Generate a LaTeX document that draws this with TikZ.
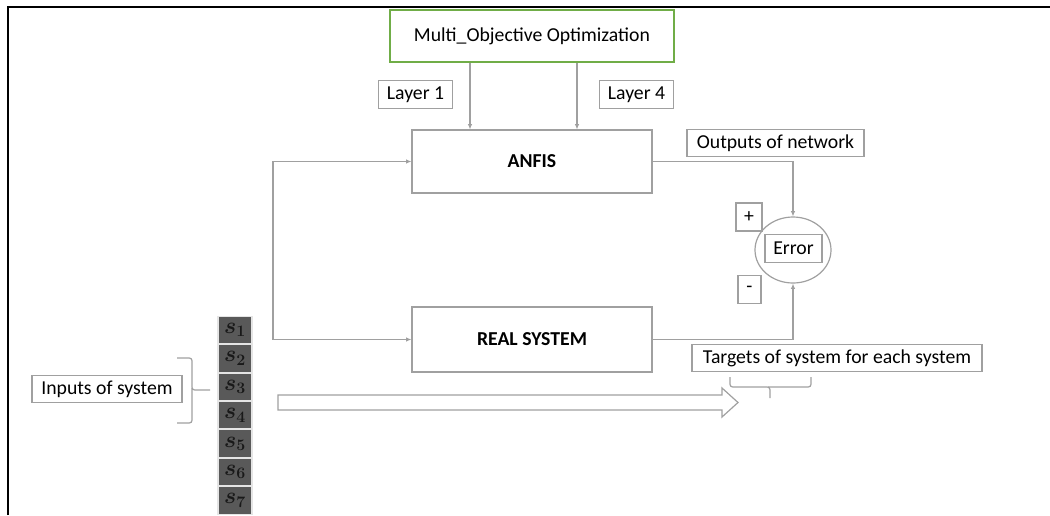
\documentclass[tikz,border=0pt]{standalone}
\usepackage{amsmath,bm}
\usepackage{fontspec}
\setmainfont{Carlito}
\usetikzlibrary{arrows.meta, positioning, shapes.geometric, calc}
\definecolor{linegray}{RGB}{160,160,160}
\definecolor{cellgray}{RGB}{89,89,89}
\definecolor{optgreen}{RGB}{112,173,71}

\begin{document}
\begin{tikzpicture}[
    x=0.75pt, y=-0.75pt,
    box/.style={draw=linegray, line width=0.9pt, font=\fontsize{14.8}{17}\selectfont,
                minimum height=20.5pt, inner sep=1pt},
    blk/.style={draw=linegray, line width=0.9pt,
                font=\fontsize{14.8}{17}\selectfont\bfseries, minimum width=180pt},
    cell/.style={draw=white!80!gray, fill=cellgray, line width=0.8pt,
                 minimum width=25.5pt, minimum height=20.5pt, inner sep=0pt,
                 text=black!90, font=\fontsize{16.5}{18}\selectfont\boldmath},
    arr/.style={-{Latex[length=4pt,width=3.5pt]}, draw=linegray, line width=0.9pt},
    lnk/.style={draw=linegray, line width=0.9pt}
  ]
  \useasboundingbox (0,0) rectangle (1050,515);
  \draw[line width=1.5pt] (8,515) -- (8,6.5) -- (1050,6.5);

  \node[box, draw=optgreen, minimum width=213pt, minimum height=39pt] (opt) at (532,36)
    {Multi\_Objective Optimization};
  \node[box, minimum width=56pt] (layer1) at (415.5,94.5) {Layer 1};
  \node[box, minimum width=56pt] (layer4) at (636.5,94.5) {Layer 4};
  \node[blk, minimum height=47.25pt] (anfis) at (532,161.5) {ANFIS};
  \node[blk, minimum height=48.75pt] (real) at (532,339.5) {REAL SYSTEM};
  \node[box, minimum width=132.75pt] (outnet) at (775.5,143) {Outputs of network};
  \node[ellipse, lnk, minimum width=57pt, minimum height=49.5pt] (err) at (793,250) {};
  \node[box, minimum width=42.75pt] (errlbl) at (793.5,248.5) {Error};
  \node[box, minimum width=19.5pt, minimum height=21pt] (plus) at (749,217) {+};
  \node[box, minimum width=17.25pt] (minus) at (749.5,289.5) {-};
  \node[box, minimum width=217.5pt] (targets) at (837,358) {Targets of system for each system};
  \node[box, minimum width=112.5pt] (inputs) at (107,389) {Inputs of system};

  \foreach \i in {1,...,7}
    \node[cell] (s\i) at (235,{330+28.4*(\i-1)}) {$\bm{s_{\i}}$};

  \draw[arr] ($(opt.south)+(-62,0)$) -- ($(anfis.north)+(-62,0)$);
  \draw[arr] ($(opt.south)+(45,0)$) -- ($(anfis.north)+(45,0)$);
  \coordinate (fb) at (273,250);
  \draw[arr] (fb) |- (anfis.west);
  \draw[arr] (fb) |- (real.west);
  \draw[arr] (anfis.east) -| (err.north);
  \draw[arr] (real.east) -| (err.south);

  \draw[lnk, rounded corners=2pt] (177,358) -| (192,390) -- (210,390);
  \draw[lnk, rounded corners=2pt] (192,388) |- (177,423);
  \draw[lnk, rounded corners=2pt] (730,377) |- (770,387) -- (770,398);
  \draw[lnk, rounded corners=2pt] (768,387) -| (811,377);

  \draw[lnk] (278,395) -- (722,395) -- (722,388) -- (738,402.5) -- (722,417)
    -- (722,410) -- (278,410) -- cycle;
\end{tikzpicture}
\end{document}
